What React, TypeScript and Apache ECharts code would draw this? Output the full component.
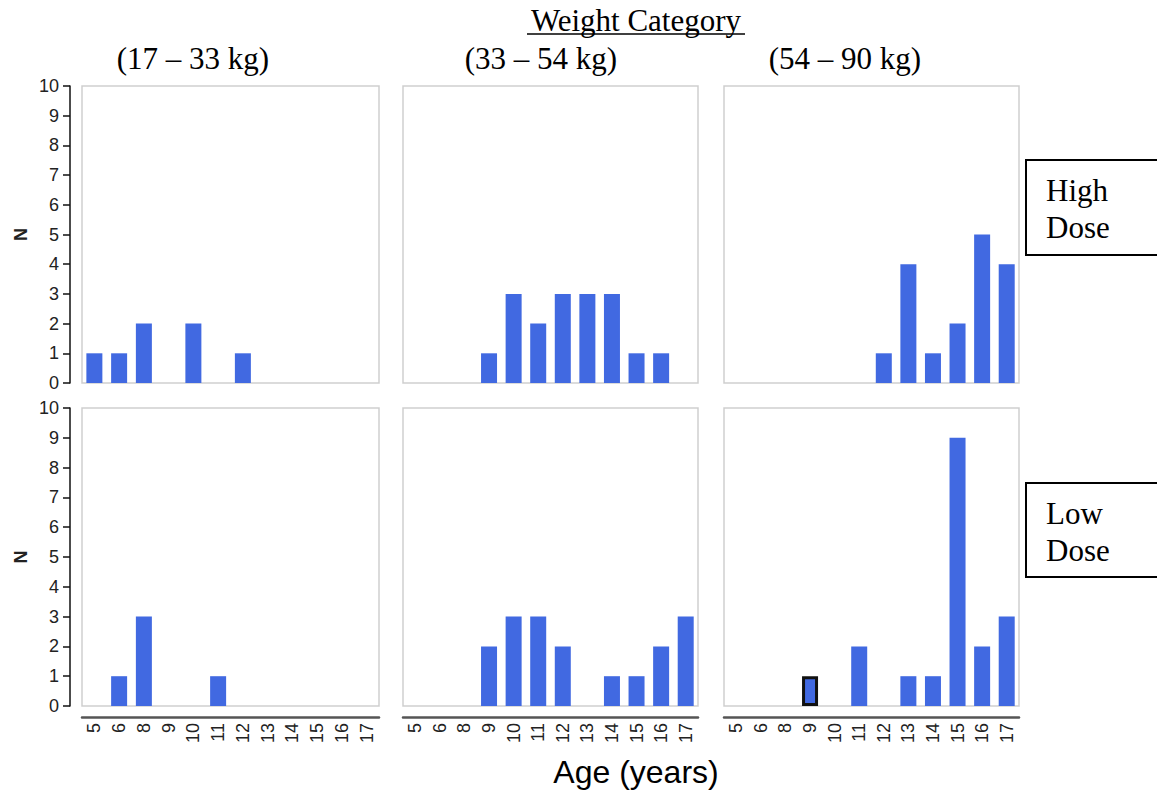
import React, { useEffect, useRef } from "react";
import * as echarts from "echarts";

const ages = ["5", "6", "8", "9", "10", "11", "12", "13", "14", "15", "16", "17"];
const weightCategories = ["(17 – 33 kg)", "(33 – 54 kg)", "(54 – 90 kg)"];
const doseLabels = ["High\nDose", "Low\nDose"];
const yTicks = [0, 10];

// High dose rows
const highLight = [1, 1, 2, 0, 2, 0, 1, 0, 0, 0, 0, 0];
const highMid = [0, 0, 0, 1, 3, 2, 3, 3, 3, 1, 1, 0];
const highHeavy = [0, 0, 0, 0, 0, 0, 1, 4, 1, 2, 5, 4];
// Low dose rows
const lowLight = [0, 1, 3, 0, 0, 1, 0, 0, 0, 0, 0, 0];
const lowMid = [0, 0, 0, 2, 3, 3, 2, 0, 1, 1, 2, 3];
const lowHeavy = [0, 0, 0, 1, 0, 2, 0, 1, 1, 9, 2, 3];
const highlightedLowHeavyAge = "9";

const BLUE = "#4169E1";
const SERIF = "Times New Roman";
const SANS = "Arial";

export default function App() {
  const ref = useRef<HTMLDivElement>(null);
  useEffect(() => {
    if (!ref.current) return;
    const chart = echarts.init(ref.current, undefined, { renderer: "svg" });
    const colLefts = [82, 403, 724];
    const colWidths = [297, 295, 295];
    const rowTops = [86, 408];
    const rowHeights = [297, 298];
    const panels = [
      [highLight, highMid, highHeavy],
      [lowLight, lowMid, lowHeavy],
    ];
    const grid: any[] = [];
    const xAxis: any[] = [];
    const yAxis: any[] = [];
    const series: any[] = [];
    let idx = 0;
    for (let r = 0; r < 2; r++) {
      for (let c = 0; c < 3; c++) {
        grid.push({
          left: colLefts[c],
          top: rowTops[r],
          width: colWidths[c],
          height: rowHeights[r],
          show: true,
          borderColor: "#cfcfcf",
          borderWidth: 1.5,
          backgroundColor: "transparent",
        });
        xAxis.push({
          type: "category",
          gridIndex: idx,
          data: ages,
          show: r === 1,
          offset: 11,
          axisLine: { show: true, onZero: false, lineStyle: { color: "#555", width: 2.5 } },
          axisTick: { show: false },
          axisLabel: {
            rotate: 90,
            fontSize: 18,
            fontFamily: SANS,
            color: "#222",
            margin: 6,
            interval: 0,
          },
          splitLine: { show: false },
        });
        yAxis.push({
          type: "value",
          gridIndex: idx,
          min: yTicks[0],
          max: yTicks[1],
          interval: 1,
          show: c === 0,
          offset: 12,
          name: "N",
          nameLocation: "middle",
          nameRotate: 90,
          nameGap: 40,
          nameTextStyle: { fontSize: 18, fontWeight: "bold", fontFamily: SANS, color: "#222" },
          axisLine: { show: true, onZero: false, lineStyle: { color: "#111", width: 1.5 } },
          axisTick: { show: true, length: 7, lineStyle: { color: "#111", width: 1.5 } },
          axisLabel: { fontSize: 18, fontFamily: SANS, color: "#222", margin: 11 },
          splitLine: { show: false },
        });
        const vals = panels[r][c];
        const data = vals.map((v, i) => {
          if (r === 1 && c === 2 && ages[i] === highlightedLowHeavyAge) {
            return { value: v, itemStyle: { borderColor: "#111", borderWidth: 3 } };
          }
          return v;
        });
        series.push({
          type: "bar",
          xAxisIndex: idx,
          yAxisIndex: idx,
          data,
          barWidth: 16,
          itemStyle: { color: BLUE, borderWidth: 0 },
        });
        idx++;
      }
    }
    const headerCenters = [193, 541, 845];
    const graphic: any[] = [
      {
        type: "text",
        x: 636,
        y: 20,
        style: {
          text: "Weight Category",
          fontSize: 31,
          fontFamily: SERIF,
          fill: "#000",
          align: "center",
          verticalAlign: "middle",
        },
      },
      {
        type: "line",
        shape: { x1: 527, y1: 34, x2: 745, y2: 34 },
        style: { stroke: "#000", lineWidth: 1.5 },
      },
      ...weightCategories.map((t, i) => ({
        type: "text",
        x: headerCenters[i],
        y: 58,
        style: {
          text: t,
          fontSize: 31,
          fontFamily: SERIF,
          fill: "#000",
          align: "center",
          verticalAlign: "middle",
        },
      })),
      {
        type: "rect",
        shape: { x: 1026, y: 160, width: 140, height: 95 },
        style: { fill: "#fff", stroke: "#000", lineWidth: 2 },
      },
      {
        type: "text",
        x: 1046,
        y: 172,
        style: { text: doseLabels[0], fontSize: 31, fontFamily: SERIF, fill: "#000", lineHeight: 37 },
      },
      {
        type: "rect",
        shape: { x: 1026, y: 483, width: 140, height: 94 },
        style: { fill: "#fff", stroke: "#000", lineWidth: 2 },
      },
      {
        type: "text",
        x: 1046,
        y: 495,
        style: { text: doseLabels[1], fontSize: 31, fontFamily: SERIF, fill: "#000", lineHeight: 37 },
      },
      {
        type: "text",
        x: 636,
        y: 772,
        style: {
          text: "Age (years)",
          fontSize: 32,
          fontFamily: SANS,
          fill: "#000",
          align: "center",
          verticalAlign: "middle",
        },
      },
    ];
    chart.setOption({
      animation: false,
      backgroundColor: "#fff",
      grid,
      xAxis,
      yAxis,
      series,
      graphic,
    });
    return () => chart.dispose();
  }, []);
  return (
    <div
      ref={ref}
      style={{ position: "fixed", left: 0, top: 0, width: 1157, height: 791 }}
    />
  );
}
